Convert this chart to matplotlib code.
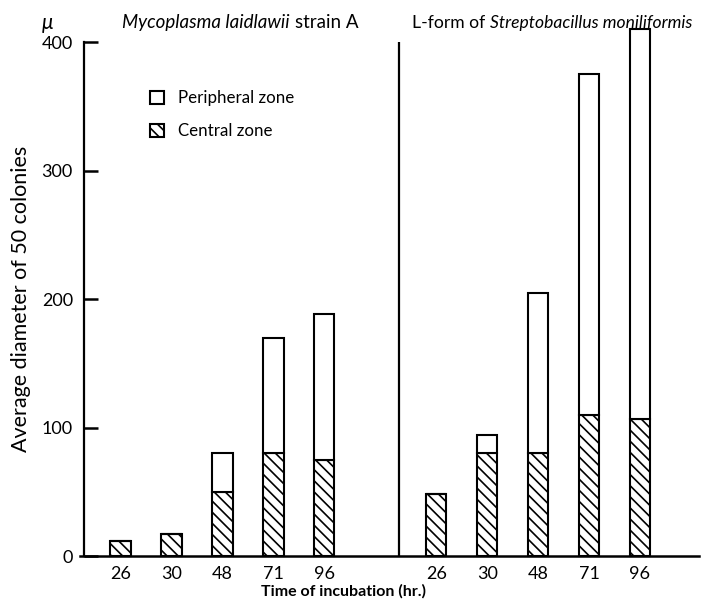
import numpy as np
import matplotlib.pyplot as plt
from matplotlib.patches import Rectangle

plt.rcParams['font.family'] = ['Lato', 'DejaVu Sans']
plt.rcParams['hatch.linewidth'] = 1.2

hours = ["26", "30", "48", "71", "96"]

# Mycoplasma laidlawii strain A
myco_central = [12, 17, 50, 80, 75]
myco_total = [12, 17, 80, 170, 188]

# L-form of Streptobacillus moniliformis
lform_central = [48, 80, 80, 110, 107]
lform_total = [48, 94, 205, 375, 410]

x_left = np.arange(5)
x_right = np.arange(5) + 6.2
w = 0.4

fig = plt.figure(figsize=(7.09, 6.02), dpi=100)
ax = fig.add_axes([0.1185, 0.0764, 0.868, 0.8536])

for xs, cen, tot in [(x_left, myco_central, myco_total), (x_right, lform_central, lform_total)]:
    cen = np.array(cen)
    tot = np.array(tot)
    ax.bar(xs, cen, w, color="white", edgecolor="black", hatch="\\\\\\", linewidth=1.5, clip_on=False)
    ax.bar(xs, tot - cen, w, bottom=cen, color="white", edgecolor="black", linewidth=1.5, clip_on=False)

ax.set_xlim(-0.72, 11.37)
ax.set_ylim(0, 400)

# divider between the two organisms
ax.plot([5.47, 5.47], [0, 400], color="black", lw=1.6)
ax.plot([-0.8, 11.37], [0, 0], color="black", lw=1.8, clip_on=False)

for s in ["top", "right", "bottom"]:
    ax.spines[s].set_visible(False)
ax.spines["left"].set_linewidth(1.6)

ax.set_yticks([0, 100, 200, 300, 400])
ax.tick_params(axis="y", direction="in", length=10, width=1.8, labelsize=13, pad=8)
ax.set_xticks(np.concatenate([x_left, x_right]), hours * 2)
ax.tick_params(axis="x", length=0, labelsize=13, pad=7)

ax.set_ylabel("Average diameter of 50 colonies", fontsize=15.5, labelpad=8)
ax.set_xlabel("Time of incubation (hr.)", fontsize=11.5, fontweight="bold", labelpad=2, x=0.422)

# headings, pieces placed one after another
def heading(x0, parts, y=0.962, size=13.5):
    fig.canvas.draw()
    r = fig.canvas.get_renderer()
    x = x0
    for txt, style in parts:
        t = fig.text(x, y, txt, fontsize=size, style=style, va="center")
        bb = t.get_window_extent(renderer=r)
        x = x + bb.width / fig.bbox.width + 0.007

fig.text(0.059, 0.962, "μ", fontsize=15, style="italic", va="center")
heading(0.172, [("Mycoplasma laidlawii", "italic"), ("strain A", "normal")])
heading(0.581, [("L-form of", "normal"), ("Streptobacillus moniliformis", "italic")], size=12.6)

# legend drawn by hand
for yy, label, hatch in [(0.838, "Peripheral zone", None), (0.783, "Central zone", "\\\\\\")]:
    fig.patches.append(Rectangle((0.212, yy - 0.011), 0.019, 0.022, transform=fig.transFigure,
                                 facecolor="white", edgecolor="black", linewidth=1.5, hatch=hatch))
    fig.text(0.251, yy, label, fontsize=12.2, va="center")

fig.savefig("out.png", dpi=100)
